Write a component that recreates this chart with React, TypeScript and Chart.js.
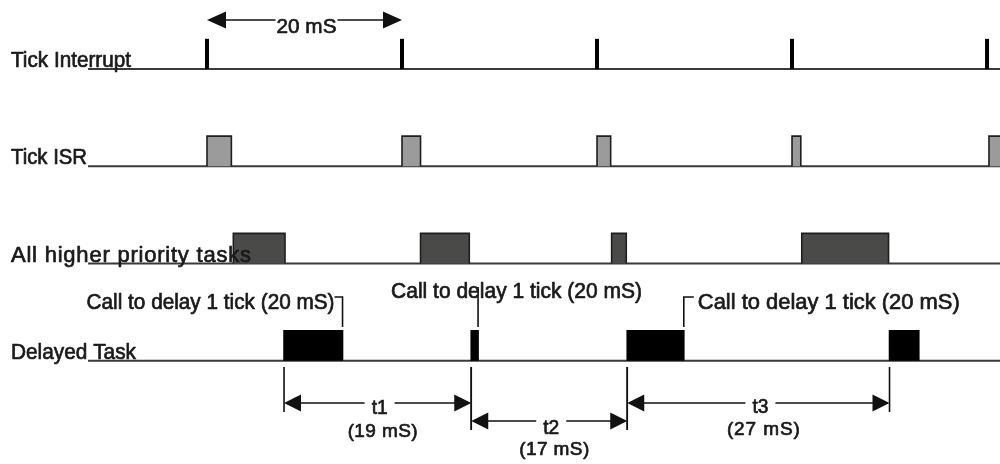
import React, { useEffect, useRef } from 'react';
import { Chart, registerables } from 'chart.js';

Chart.register(...registerables);

// ---------------- data (time in mS, rows 0..3 from top) ----------------
const rowLabels = ['Tick Interrupt', 'Tick ISR', 'All higher priority tasks', 'Delayed Task'];
const tickTimes = [0, 20, 40, 60, 80];
const isrPulses = [[0, 2.5], [20, 21.9], [40, 41.4], [60, 60.9], [80.2, 82]];
const higherPulses = [[2.7, 8.0], [21.9, 26.9], [41.5, 43.0], [61.0, 69.9]];
const delayedPulses = [[7.9, 13.9], [27.1, 27.8], [43.1, 48.9], [70.0, 73.0]];
const delayCallTimes = [13.9, 27.8, 48.9];
const delayCallText = 'Call to delay 1 tick (20 mS)';
const tickPeriodLabel = '20 mS';
const intervalNames = ['t1', 't2', 't3'];
const intervalValues = ['(19 mS)', '(17 mS)', '(27 mS)'];
const intervalStarts = [7.9, 27.1, 43.1];
const intervalEnds = [27.1, 43.1, 70.0];

// ---------------- layout / style ----------------
const X_MIN = -21.23;
const X_MAX = 81.33;
const Y_MIN = -0.709;
const Y_MAX = 4.06;
const BASELINE_START = -12.2;
const PULSE_H = 0.31;
const FONT = '"Liberation Sans", Arial, Helvetica, sans-serif';
const TEXT_COLOR = '#1a1a1a';
const rowLabelWidths = [120, 76, 240, 125];
const callLayout = [
  { kind: 'left', top: 2.343, textY: 2.467, width: 248 },
  { kind: 'above', top: 2.24, textY: 2.354, width: 251 },
  { kind: 'right', top: 2.343, textY: 2.467, width: 262 },
];
const CALL_BOTTOM = 2.652;
const intervalLayout = [
  { arrowY: 3.433, extBottom: 3.525, nameY: 3.546, valueY: 3.782, valueW: 70 },
  { arrowY: 3.618, extBottom: 3.71, nameY: 3.751, valueY: 3.967, valueW: 70 },
  { arrowY: 3.433, extBottom: 3.525, nameY: 3.535, valueY: 3.762, valueW: 73 },
];
const EXT_TOP = 3.063;
const PERIOD_ARROW_Y = -0.504;
const PERIOD_TEXT_Y = -0.37;

// draws text fitted to a target width (narrow-condensed or letter-spaced), slightly emboldened
function fitText(
  ctx: CanvasRenderingContext2D,
  text: string,
  x: number,
  y: number,
  size: number,
  target: number,
  align: 'left' | 'right' | 'center',
) {
  ctx.save();
  ctx.font = `${size}px ${FONT}`;
  (ctx as any).letterSpacing = '0px';
  ctx.textAlign = 'left';
  ctx.textBaseline = 'alphabetic';
  const w = ctx.measureText(text).width;
  let sx = 1;
  let sp = 0;
  if (w > target) sx = target / w;
  else sp = (target - w) / Math.max(1, text.length - 1);
  (ctx as any).letterSpacing = `${sp}px`;
  const total = target;
  const left = align === 'left' ? x : align === 'right' ? x - total : x - total / 2;
  ctx.translate(left, y);
  ctx.scale(sx, 1);
  ctx.fillStyle = TEXT_COLOR;
  ctx.strokeStyle = TEXT_COLOR;
  ctx.lineWidth = 0.7;
  ctx.lineJoin = 'round';
  ctx.fillText(text, 0, 0);
  ctx.strokeText(text, 0, 0);
  ctx.restore();
}

function head(ctx: CanvasRenderingContext2D, tipX: number, y: number, dir: number, len: number, half: number) {
  ctx.beginPath();
  ctx.moveTo(tipX, y);
  ctx.lineTo(tipX - dir * len, y - half);
  ctx.lineTo(tipX - dir * len, y + half);
  ctx.closePath();
  ctx.fill();
}

function dimArrow(ctx: CanvasRenderingContext2D, x1: number, x2: number, y: number, len: number, half: number) {
  ctx.strokeStyle = '#111';
  ctx.fillStyle = '#111';
  ctx.lineWidth = 1.6;
  ctx.beginPath();
  ctx.moveTo(x1 + 2, y);
  ctx.lineTo(x2 - 2, y);
  ctx.stroke();
  head(ctx, x1, y, -1, len, half);
  head(ctx, x2, y, 1, len, half);
}

const annotationPlugin = {
  id: 'timingAnnotations',
  afterDatasetsDraw(chart: any) {
    const ctx: CanvasRenderingContext2D = chart.ctx;
    const xs = chart.scales.x;
    const ys = chart.scales.y;
    const X = (v: number) => xs.getPixelForValue(v);
    const Y = (v: number) => ys.getPixelForValue(v);
    const area = chart.chartArea;
    ctx.save();

    // row labels
    rowLabels.forEach((label, i) => {
      fitText(ctx, label, area.left + 11, Y(i) - 2, 22, rowLabelWidths[i], 'left');
    });

    // tick period arrow
    {
      const x1 = X(tickTimes[0]);
      const x2 = X(tickTimes[1]);
      const y = Y(PERIOD_ARROW_Y);
      dimArrow(ctx, x1, x2, y, 19, 8.5);
      const cx = X((tickTimes[0] + tickTimes[1]) / 2) + 2;
      ctx.fillStyle = '#fff';
      ctx.fillRect(cx - 31, y - 1.5, 62, 3);
      fitText(ctx, tickPeriodLabel, cx, Y(PERIOD_TEXT_Y), 21, 60, 'center');
    }

    // delay calls
    delayCallTimes.forEach((t, i) => {
      const L = callLayout[i];
      const x = X(t);
      ctx.strokeStyle = '#111';
      ctx.lineWidth = 1.6;
      ctx.beginPath();
      if (L.kind === 'left') {
        ctx.moveTo(x - 8, Y(L.top));
        ctx.lineTo(x, Y(L.top));
        ctx.lineTo(x, Y(CALL_BOTTOM));
      } else if (L.kind === 'right') {
        ctx.moveTo(x + 10, Y(L.top));
        ctx.lineTo(x, Y(L.top));
        ctx.lineTo(x, Y(CALL_BOTTOM));
      } else {
        ctx.moveTo(x, Y(L.top));
        ctx.lineTo(x, Y(CALL_BOTTOM));
      }
      ctx.stroke();
      if (L.kind === 'left') {
        fitText(ctx, delayCallText, x - 8, Y(L.textY), 22, L.width, 'right');
      } else if (L.kind === 'right') {
        fitText(ctx, delayCallText, x + 14, Y(L.textY), 22, L.width, 'left');
      } else {
        fitText(ctx, delayCallText, x - 87, Y(L.textY), 22, L.width, 'left');
      }
    });

    // interval dimension lines
    intervalNames.forEach((name, i) => {
      const L = intervalLayout[i];
      const x1 = X(intervalStarts[i]);
      const x2 = X(intervalEnds[i]);
      const prev = intervalLayout[i - 1];
      const next = intervalLayout[i + 1];
      const bottom1 = prev ? Math.max(L.extBottom, prev.extBottom) : L.extBottom;
      const bottom2 = next ? Math.max(L.extBottom, next.extBottom) : L.extBottom;
      ctx.strokeStyle = '#111';
      ctx.lineWidth = 1.6;
      ctx.beginPath();
      ctx.moveTo(x1, Y(EXT_TOP));
      ctx.lineTo(x1, Y(bottom1));
      ctx.moveTo(x2, Y(EXT_TOP));
      ctx.lineTo(x2, Y(bottom2));
      ctx.stroke();
      const y = Y(L.arrowY);
      dimArrow(ctx, x1, x2, y, 17, 8.5);
      const cx = (x1 + x2) / 2 + 2;
      ctx.fillStyle = '#fff';
      ctx.fillRect(cx - 15, y - 2, 30, 4);
      fitText(ctx, name, cx, Y(L.nameY), 20, 16, 'center');
      fitText(ctx, intervalValues[i], cx + 3, Y(L.valueY), 19, L.valueW, 'center');
    });

    ctx.restore();
  },
};

function pulse(s: number, e: number, row: number, fill: string, border: string) {
  return {
    data: [
      { x: s, y: row },
      { x: s, y: row - PULSE_H },
      { x: e, y: row - PULSE_H },
      { x: e, y: row },
    ],
    showLine: true,
    fill: { value: row },
    backgroundColor: fill,
    borderColor: border,
    borderWidth: 1.6,
    borderJoinStyle: 'miter',
    pointRadius: 0,
    tension: 0,
    order: 1,
  };
}

export default function App() {
  const ref = useRef<HTMLCanvasElement>(null);
  useEffect(() => {
    document.body.style.margin = '0';
    document.body.style.background = '#fff';
    const datasets: any[] = [];
    rowLabels.forEach((_, row) => {
      datasets.push({
        data: [{ x: BASELINE_START, y: row }, { x: X_MAX + 5, y: row }],
        showLine: true,
        borderColor: '#3a3a3a',
        borderWidth: 2,
        pointRadius: 0,
        fill: false,
        order: 5,
      });
    });
    tickTimes.forEach((t) => {
      datasets.push({
        data: [{ x: t, y: 0 }, { x: t, y: -PULSE_H }],
        showLine: true,
        borderColor: '#000',
        borderWidth: 4,
        borderCapStyle: 'butt',
        pointRadius: 0,
        fill: false,
        order: 1,
      });
    });
    isrPulses.forEach(([s, e]) => datasets.push(pulse(s, e, 1, '#9b9b9b', '#1e1e1e')));
    higherPulses.forEach(([s, e]) => datasets.push(pulse(s, e, 2, '#4a4b48', '#1e1e1e')));
    delayedPulses.forEach(([s, e]) => datasets.push(pulse(s, e, 3, '#000000', '#000000')));

    const chart = new Chart(ref.current as HTMLCanvasElement, {
      type: 'scatter',
      data: { datasets },
      options: {
        animation: false,
        responsive: false,
        maintainAspectRatio: false,
        events: [],
        layout: { padding: 0 },
        plugins: {
          legend: { display: false },
          tooltip: { enabled: false },
          filler: { propagate: false },
        },
        scales: {
          x: { type: 'linear', display: false, min: X_MIN, max: X_MAX },
          y: { type: 'linear', display: false, min: Y_MIN, max: Y_MAX, reverse: true },
        },
      } as any,
      plugins: [annotationPlugin],
    });
    return () => chart.destroy();
  }, []);
  return (
    <div style={{ width: 1000, height: 464, background: '#fff' }}>
      <canvas ref={ref} width={1000} height={464} />
    </div>
  );
}
